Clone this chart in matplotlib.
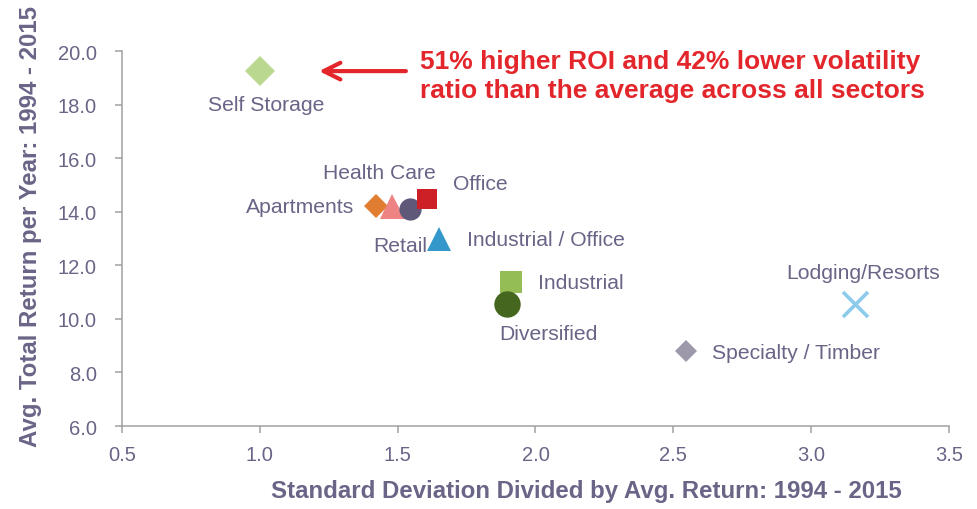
import matplotlib
matplotlib.use("Agg")
import matplotlib.pyplot as plt

# Sector data
sectors = ["Self Storage", "Apartments", "Health Care", "Retail", "Office",
           "Industrial / Office", "Industrial", "Diversified",
           "Lodging/Resorts", "Specialty / Timber"]
volatility_ratio = [1.00, 1.42, 1.48, 1.546, 1.608, 1.65, 1.913, 1.898, 3.16, 2.545]
avg_return = [19.25, 14.22, 14.20, 14.10, 14.48, 12.99, 11.38, 10.56, 10.56, 8.81]

# marker style per sector: (marker, colour, size)
STYLES = [
    ("D", "#bad88f", 15),
    ("D", "#e07d31", 12.5),
    ("^", "#ee8383", 18),
    ("o", "#5f5879", 16),
    ("s", "#cc1f26", 15),
    ("^", "#3499ca", 17),
    ("s", "#94bd55", 16.5),
    ("o", "#45661f", 19),
    ("x", "#8ccbeb", 18),
    ("D", "#9d99ab", 11.5),
]

# label offsets in pixels from the marker, plus horizontal alignment
LABELS = [
    (6, -33, "center"),
    (-21, -1, "right"),
    (-13, 34, "center"),
    (17, -36, "right"),
    (26, 15, "left"),
    (28, -1, "left"),
    (27, -1, "left"),
    (41, -30, "center"),
    (8, 31, "center"),
    (26, -2, "left"),
]

TEXT = "#6a6487"
GRID = "#a0a0a0"
RED = "#e3262b"

plt.rcParams["font.family"] = ["Liberation Sans", "DejaVu Sans"]

fig = plt.figure(figsize=(9.78, 5.10), dpi=100)
ax = fig.add_axes([0.1247, 0.1627, 0.8456, 0.7353])

for i, name in enumerate(sectors):
    marker, color, ms = STYLES[i]
    kw = dict(marker=marker, color=color, markersize=ms, linestyle="none")
    if marker == "x":
        kw["markeredgewidth"] = 2.6
    else:
        kw["markeredgewidth"] = 0
    ax.plot(volatility_ratio[i], avg_return[i], **kw)
    dx, dy, ha = LABELS[i]
    ax.annotate(name, (volatility_ratio[i], avg_return[i]), xytext=(dx, dy),
                textcoords="offset pixels", ha=ha, va="center",
                fontsize=15.2, color=TEXT)

# callout arrow and text
ax.annotate("", xy=(1.205, 19.25), xytext=(1.54, 19.25),
            arrowprops=dict(arrowstyle="->", color=RED, lw=3, mutation_scale=30))
fig.text(0.4295, 0.85, "51% higher ROI and 42% lower volatility\nratio than the average across all sectors",
         color=RED, fontsize=19, fontweight="bold", ha="left", va="center",
         linespacing=1.28)

ax.set_xlim(0.5, 3.5)
ax.set_ylim(6.0, 20.0)
ax.set_xticks([0.5, 1.0, 1.5, 2.0, 2.5, 3.0, 3.5])
ax.set_yticks([6, 8, 10, 12, 14, 16, 18, 20])
ax.xaxis.set_major_formatter(matplotlib.ticker.FormatStrFormatter("%.1f"))
ax.yaxis.set_major_formatter(matplotlib.ticker.FormatStrFormatter("%.1f"))

for side in ["top", "right"]:
    ax.spines[side].set_visible(False)
for side in ["left", "bottom"]:
    ax.spines[side].set_color(GRID)
    ax.spines[side].set_linewidth(1.1)
ax.tick_params(colors=GRID, labelcolor=TEXT, labelsize=14.5, length=5, width=1.1)
ax.tick_params(axis="x", pad=9)
ax.tick_params(axis="y", pad=13)

ax.set_xlabel("Standard Deviation Divided by Avg. Return: 1994 - 2015",
              fontsize=17.3, fontweight="bold", color=TEXT)
ax.set_ylabel("Avg. Total Return per Year: 1994 - 2015",
              fontsize=17.3, fontweight="bold", color=TEXT)
ax.xaxis.set_label_coords(0.561, -0.14)
ax.yaxis.set_label_coords(-0.097, 0.536)

fig.savefig("out.png", dpi=100)
